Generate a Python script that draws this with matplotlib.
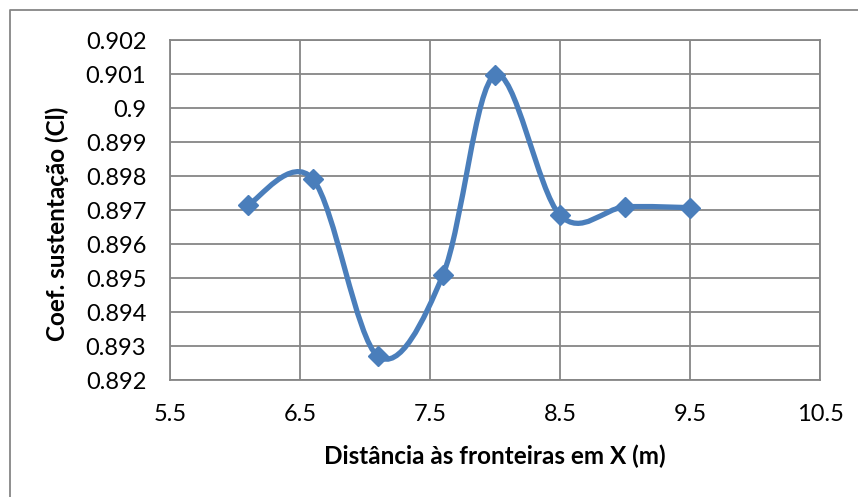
import numpy as np
import matplotlib
matplotlib.use("Agg")
from matplotlib import pyplot as plt
from matplotlib.path import Path
from matplotlib.patches import PathPatch
from matplotlib.lines import Line2D

# distance to the X boundaries (m) and lift coefficient
distancia = [6.1, 6.6, 7.1, 7.6, 8.0, 8.5, 9.0, 9.5]
coef_cl = [0.89715, 0.89791, 0.89270, 0.89509, 0.90097, 0.89685, 0.89709, 0.89707]

x_ticks = [5.5, 6.5, 7.5, 8.5, 9.5, 10.5]
y_ticks = [0.892, 0.893, 0.894, 0.895, 0.896, 0.897, 0.898, 0.899, 0.900, 0.901, 0.902]
y_labels = ["0.892", "0.893", "0.894", "0.895", "0.896", "0.897",
            "0.898", "0.899", "0.9", "0.901", "0.902"]

AZUL = "#4A7EBB"
CINZA = "#868686"

plt.rcParams["font.family"] = ["Lato", "DejaVu Sans"]


def smooth_path(xs, ys):
    """ smoothed line as cubic bezier segments (catmull-rom style) """
    p = np.column_stack([xs, ys])
    n = len(p)
    verts = [p[0]]
    codes = [Path.MOVETO]
    for i in range(n - 1):
        p0 = p[i - 1] if i > 0 else p[i]
        p1 = p[i]
        p2 = p[i + 1]
        p3 = p[i + 2] if i + 2 < n else p[i + 1]
        c1 = p1 + (p2 - p0) / 6.0
        c2 = p2 - (p3 - p1) / 6.0
        verts += [c1, c2, p2]
        codes += [Path.CURVE4] * 3
    return Path(verts, codes)


fig = plt.figure(figsize=(8.58, 4.97), dpi=100)
ax = fig.add_axes([0.198, 0.2354, 0.7577, 0.6841])

ax.add_patch(PathPatch(smooth_path(distancia, coef_cl), facecolor="none",
                       edgecolor=AZUL, lw=3.8, capstyle="round",
                       joinstyle="round", zorder=3))
ax.plot(distancia, coef_cl, linestyle="none", marker="D", markersize=10,
        color=AZUL, zorder=4)

ax.set_xlim(5.5, 10.5)
ax.set_ylim(0.892, 0.902)
ax.set_xticks(x_ticks)
ax.set_xticklabels([str(v) for v in x_ticks])
ax.set_yticks(y_ticks)
ax.set_yticklabels(y_labels)
ax.tick_params(length=0, labelsize=17, pad=17)
ax.grid(True, color=CINZA, lw=1.3)
ax.set_axisbelow(True)
for s in ax.spines.values():
    s.set_color(CINZA)
    s.set_linewidth(1.3)

ax.set_xlabel("Distância às fronteiras em X (m)", fontsize=17.5,
              fontweight="bold", labelpad=14)
ax.set_ylabel("Coef. sustentação (Cl)", fontsize=17.5, fontweight="bold")
ax.yaxis.set_label_coords(-0.155, 0.46)

# outer chart frame (top and left edges)
fig.add_artist(Line2D([0.0117, 0.0117, 1.0], [0.0, 0.98, 0.98],
                      transform=fig.transFigure, color=CINZA, lw=1.3))

fig.savefig("out.png", dpi=100)
